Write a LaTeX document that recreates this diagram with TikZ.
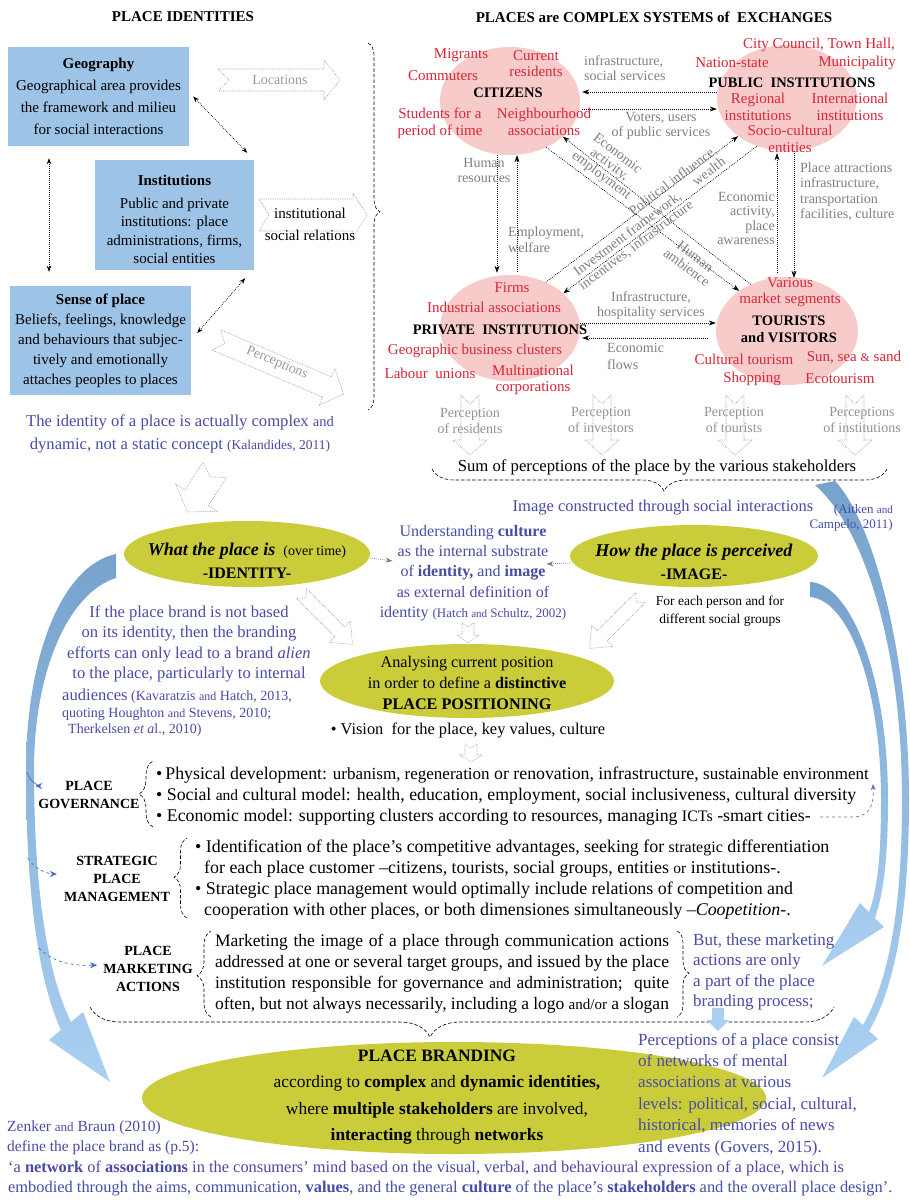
\documentclass[tikz,border=0pt]{standalone}
\usepackage{fontspec}
\setmainfont{Liberation Serif}
\usetikzlibrary{shapes.geometric,decorations.pathreplacing,arrows.meta}

\definecolor{boxblue}{RGB}{157,195,230}
\definecolor{pinkfill}{RGB}{248,203,203}
\definecolor{redlab}{RGB}{215,38,56}
\definecolor{graylab}{RGB}{128,128,128}
\definecolor{olivefill}{RGB}{203,204,58}
\definecolor{bluetxt}{RGB}{72,76,166}
\definecolor{steel}{RGB}{118,162,204}
\definecolor{pale}{RGB}{170,208,242}
\definecolor{arrblue}{RGB}{68,110,192}

\newcommand\fs[2]{\fontsize{#1}{#2}\selectfont}
% notched hollow dotted arrow: x, y, angle, length, half shaft, half head, head length, notch
\newcommand\hollowarr[8]{%
  \draw[hollowline, shift={(#1,#2)}, rotate=#3]
    (-#4/2,-#5) -- (#4/2-#7,-#5) -- (#4/2-#7,-#6) -- (#4/2,0)
    -- (#4/2-#7,#6) -- (#4/2-#7,#5) -- (-#4/2,#5) -- (-#4/2+#8,0) -- cycle;}

\begin{document}
\begin{tikzpicture}[x=1pt, y=-1pt,
    idbox/.style={fill=boxblue, align=center, inner sep=0pt},
    stake/.style={ellipse, fill=pinkfill, inner sep=0pt},
    ovalbox/.style={ellipse, fill=olivefill, inner sep=0pt},
    redtxt/.style={text=redlab, align=center, inner sep=0pt, font=\fs{15}{16.5}},
    graytxt/.style={text=graylab, inner sep=0pt, font=\fs{14}{15.5}},
    headtxt/.style={inner sep=0pt, font=\bfseries\fs{14.5}{17}, align=center},
    bluetext/.style={text=bluetxt, inner sep=0pt},
    dotarr/.style={line width=0.7pt, dash pattern=on 0.8pt off 1.2pt, {Stealth[length=6pt,width=4.5pt]}-{Stealth[length=6pt,width=4.5pt]}},
    flow/.style={line width=0.7pt, dash pattern=on 0.8pt off 1.2pt, -{Stealth[length=7pt,width=5pt]}},
    hollowline/.style={draw=gray!75, line width=0.6pt, dash pattern=on 0.8pt off 1pt},
    dashbrace/.style={decorate, line width=0.6pt, dash pattern=on 3.5pt off 2pt},
  ]
\fill[white] (0,0) rectangle (910,1200);
\useasboundingbox (0,0) rectangle (910,1200);

% titles
\node[headtxt, font=\bfseries\fs{15}{17}] (ttlid) at (183,17) {PLACE IDENTITIES};
\node[headtxt, font=\bfseries\fs{15}{17}] (ttlsys) at (654,17) {PLACES are COMPLEX SYSTEMS of\ \ EXCHANGES};

% identity boxes
\node[idbox, minimum width=181, minimum height=99, font=\fs{15}{22}] (geo) at (98.5,96.5)
  {\textbf{Geography}\\Geographical area provides\\the framework and milieu\\for social interactions};
\node[idbox, minimum width=159, minimum height=110] (inst) at (174.5,215) {};
\node[align=center, inner sep=0pt, font=\fs{15}{18.5}] (insttxt) at (174.5,219.5)
  {\textbf{Institutions}\\[4pt]Public and private\\institutions: place\\administrations, firms,\\social entities};
\node[idbox, minimum width=181, minimum height=109, font=\fs{15}{20}] (sense) at (100.5,340.5)
  {\textbf{Sense of place}\\Beliefs, feelings, knowledge\\and behaviours that subjec-\\tively and emotionally\\attaches peoples to places};

\draw[dotarr] ([xshift=4pt]geo.east) -- ([xshift=-7pt,yshift=7pt]inst.north east);
\draw[dotarr] ([xshift=-49.5pt,yshift=-12pt]geo.south) -- ([xshift=-51.5pt,yshift=14pt]sense.north);
\draw[dotarr] ([xshift=6pt,yshift=7.5pt]sense.east) -- ([xshift=-9pt,yshift=-8pt]inst.south east);

\hollowarr{279}{80}{0}{122}{11}{20}{16}{11}
\node[graytxt, text=gray!80] (loc) at (280,80) {Locations};
\hollowarr{313}{215}{0}{108}{16}{22}{14}{10}
\node[align=center, inner sep=0pt, font=\fs{15}{22}] (instrel) at (310,224) {institutional\\social relations};
\hollowarr{280}{367}{-23}{138}{11}{20}{18}{9}
\node[graytxt, text=gray!80, rotate=-23] (perc) at (277,363) {Perceptions};

\draw[dashbrace, decoration={brace, amplitude=12pt, aspect=0.46}] (368,43) -- (368,410);

\node[bluetext, align=center, font=\fs{16.6}{23}] (idnote) at (180,434)
  {The identity of a place is actually complex {\fs{14.5}{23}and}\\dynamic, not a static concept {\fs{13.5}{23}(Kalandides, 2011)}};

% big blue arrows
\shade[top color=steel, bottom color=pale]
  (116,554) .. controls (60,566) and (26,660) .. (26,770)
  .. controls (26,900) and (40,985) .. (61,1030)
  -- (49,1040) -- (110,1082) -- (83,1012) -- (71,1022)
  .. controls (50,980) and (34,900) .. (34,770)
  .. controls (34,668) and (70,592) .. (116,578) -- cycle;
\shade[top color=steel, bottom color=pale]
  (815,485) -- (835,481) .. controls (872,520) and (909,650) .. (909,800)
  .. controls (909,920) and (893,990) .. (869,1031) -- (878,1039) -- (822,1078)
  -- (854,1017) -- (863,1025) .. controls (886,985) and (902,920) .. (902,800)
  .. controls (902,650) and (866,530) .. (815,485) -- cycle;
\shade[top color=steel, bottom color=pale]
  (810,582) .. controls (852,584) and (888,680) .. (888,800)
  .. controls (888,860) and (883,895) .. (875,918) -- (884,927) -- (822,966)
  -- (860,903) -- (869,912) .. controls (877,890) and (881,860) .. (881,800)
  .. controls (881,690) and (850,600) .. (810,597) -- cycle;

% stakeholders
\node[stake, minimum width=140, minimum height=108] (cit) at (510,101) {};
\node[stake, minimum width=140, minimum height=106] (pub) at (787,98) {};
\node[stake, minimum width=140, minimum height=106] (priv) at (510,328) {};
\node[stake, minimum width=142, minimum height=108] (tour) at (787,331) {};

\draw[flow] ([yshift=6pt]pub.west) -- ([xshift=2pt,yshift=9pt]cit.east);
\draw[flow] ([xshift=2pt,yshift=-8pt]cit.east) -- ([yshift=-11pt]pub.west);
\draw[flow] ([xshift=-13pt]cit.south) -- ([xshift=-13pt,yshift=2pt]priv.north);
\draw[flow] ([xshift=7pt,yshift=3pt]priv.north) -- ([xshift=7pt]cit.south);
\draw[flow] ([xshift=-10pt,yshift=4pt]tour.north) -- ([xshift=-10pt,yshift=-2pt]pub.south);
\draw[flow] ([xshift=7pt]pub.south) -- ([xshift=7pt,yshift=-1pt]tour.north);
\draw[flow] ([yshift=5pt]priv.east) -- ([yshift=8pt]tour.west);
\draw[flow] ([xshift=-8pt,yshift=-7pt]tour.west) -- ([xshift=2pt,yshift=-10pt]priv.east);
\draw[flow] (tour.128) -- (cit.-34);
\draw[flow] (cit.-52) -- (tour.140);
\draw[flow] (priv.52) -- (pub.218);
\draw[flow] (pub.238) -- (priv.33);

\node[headtxt] (citname) at (508,93) {CITIZENS};
\node[redtxt] (migr) at (461,55) {Migrants};
\node[redtxt] (curres) at (536,63.5) {Current\\residents};
\node[redtxt] (commu) at (443,76) {Commuters};
\node[redtxt] (stud) at (440,123.5) {Students for a\\period of time};
\node[redtxt] (neigh) at (544,122) {Neighbourhood\\associations};

\node[headtxt] (pubname) at (792,83) {PUBLIC\ \ INSTITUTIONS};
\node[redtxt] (council) at (819,45) {City Council,\ Town Hall,};
\node[redtxt] (nation) at (732,63) {Nation-state};
\node[redtxt] (munic) at (857,63) {Municipality};
\node[redtxt] (region) at (758,107) {Regional\\institutions};
\node[redtxt] (intl) at (850,107) {International\\institutions};
\node[redtxt] (socio) at (790,139) {Socio-cultural\\entities};

\node[headtxt] (privname) at (500,330) {PRIVATE\ \ INSTITUTIONS};
\node[redtxt] (firms) at (512,288) {Firms};
\node[redtxt] (indass) at (494,307) {Industrial associations};
\node[redtxt] (geoclus) at (475,351) {Geographic business clusters};
\node[redtxt] (labour) at (430,373) {Labour\ \ unions};
\node[redtxt] (multi) at (533,380) {Multinational\\corporations};

\node[headtxt] (tourname) at (789,329) {TOURISTS\\and VISITORS};
\node[redtxt] (various) at (790,292) {Various\\market segments};
\node[redtxt] (cultour) at (744,359) {Cultural tourism};
\node[redtxt] (sunsea) at (854,357) {Sun, sea {\fs{12}{16}\&} sand};
\node[redtxt] (shop) at (752,379) {Shopping};
\node[redtxt] (ecotour) at (840,379) {Ecotourism};

\node[graytxt, anchor=west, align=left] (infra) at (584,68) {infrastructure,\\social services};
\node[graytxt, align=center] (voters) at (661,126) {Voters, users\\of public services};
\node[graytxt, align=center] (humres) at (484,170.5) {Human\\resources};
\node[graytxt, anchor=west, align=left] (employ) at (508,239.5) {Employment,\\welfare};
\node[graytxt, anchor=east, align=right, font=\fs{14}{14.5}] (ecoplace) at (775,218.5) {Economic\\activity,\\place\\awareness};
\node[graytxt, anchor=west, align=left] (attract) at (800,191.5) {Place attractions\\infrastructure,\\transportation\\facilities,\ culture};
\node[graytxt, align=center] (hosp) at (651,305.5) {Infrastructure,\\hospitality\ services};
\node[graytxt, anchor=west, align=left, font=\fs{14}{17}] (ecoflow) at (607,356) {Economic\\flows};
\node[graytxt, rotate=-37, align=center, font=\fs{14}{13.5}] (ecoemp) at (609,165) {Economic\\activity,\\employment};
\node[graytxt, rotate=37, align=right, font=\fs{14}{14}] (polinf) at (677,186) {Political influence,\\wealth};
\node[graytxt, rotate=37, align=center, font=\fs{14}{14}] (invest) at (632,240) {Investment framework,\\incentives,\ infrastructure};
\node[graytxt, rotate=-37, align=center, font=\fs{14}{14}] (human) at (691,262) {Human\\ambience};

% perceptions of stakeholders
\hollowarr{470}{425}{-90}{60}{9}{17}{15}{9}
\hollowarr{602}{425}{-90}{60}{9}{17}{15}{9}
\hollowarr{735}{425}{-90}{60}{9}{17}{15}{9}
\hollowarr{855}{425}{-90}{60}{9}{17}{15}{9}
\node[graytxt, text=gray!85, align=center, font=\fs{14}{16}] (percres) at (470,421) {Perception\\of residents};
\node[graytxt, text=gray!85, align=center, font=\fs{14}{16}] (percinv) at (601,420) {Perception\\of investors};
\node[graytxt, text=gray!85, align=center, font=\fs{14}{16}] (perctour) at (734,420) {Perception\\of tourists};
\node[graytxt, text=gray!85, align=center, font=\fs{14}{16}] (percinst) at (862,420) {Perceptions\\of institutions};

\node[inner sep=0pt, font=\fs{16.7}{18}] (sumperc) at (657,467) {Sum of perceptions of the place by the various stakeholders};
\draw[dashbrace, decoration={brace, mirror, amplitude=22pt, aspect=0.51}] (432,469) -- (887,469);

\node[bluetext, font=\fs{16.5}{18}] (imgsoc) at (663,508) {Image constructed through social interactions};
\node[bluetext, anchor=east, align=right, font=\fs{13}{15}] (aitken) at (893,518) {(Aitken {\fs{11}{15}and}\\Campelo, 2011)};

% identity / image / positioning
\hollowarr{201}{491}{-123}{50}{14}{25}{17}{8}
\node[ovalbox, minimum width=246, minimum height=66] (ident) at (247,554) {};
\node[inner sep=0pt, align=center, font=\fs{16}{23}] (identtxt) at (247,560.5)
  {{\fs{18}{23}\textbf{\textit{What the place is}}}\ \ {\fs{14}{23}(over time)}\\\textbf{-IDENTITY-}};
\node[ovalbox, minimum width=248, minimum height=62] (imag) at (694,556) {};
\node[inner sep=0pt, align=center, font=\fs{16}{23}] (imagtxt) at (694,561.5)
  {{\fs{18}{23}\textbf{\textit{How the place is perceived}}}\\\textbf{-IMAGE-}};

\node[bluetext, align=center, font=\fs{16}{20.3}] (underst) at (473,573)
  {Understanding \textbf{culture}\\as the internal substrate\\of \textbf{identity,} and \textbf{image}\\as external definition of\\identity {\fs{13}{20.3}(Hatch {\fs{11}{20}and} Schultz, 2002)}};
\draw[flow, draw=gray, line width=0.6pt] ([yshift=-4pt]ident.east) -- ([xshift=13pt,yshift=12pt]underst.west);
\draw[flow, draw=gray, line width=0.6pt] ([yshift=-7pt]imag.west) -- ([xshift=-20pt,yshift=9pt]underst.east);

\node[inner sep=0pt, align=center, font=\fs{13.5}{18}] (eachpers) at (720,611) {For each person and for\\different social groups};

\node[bluetext, align=center, font=\fs{16.6}{20.5}] (alien) at (189,644)
  {If the place brand is not based\\on its identity, then the branding\\efforts can only lead to a brand \textit{alien}\\to the place, particularly to internal};
\node[bluetext, anchor=west, align=left, font=\fs{14}{16.5}] (kavar) at (62,713)
  {{\fs{16.6}{16.5}audiences} (Kavaratzis {\fs{12}{16}and} Hatch, 2013,\\quoting Houghton {\fs{12}{16}and} Stevens, 2010;\\\hspace*{6pt}Therkelsen \textit{et a}l., 2010)};

\hollowarr{327}{619}{-45}{72}{7}{15}{18}{6}
\hollowarr{615}{623}{-135}{72}{7}{15}{18}{6}
\hollowarr{468}{633}{-90}{20}{6}{11}{8}{4}

\node[ovalbox, minimum width=294, minimum height=74] (posit) at (467,681) {};
\node[inner sep=0pt, align=center, font=\fs{16.2}{21}] (posittxt) at (467,683)
  {Analysing current position\\in order to define a \textbf{distinctive}\\\textbf{PLACE POSITIONING}};
\node[inner sep=0pt, font=\fs{16.4}{18}] (vision) at (468,730) {\textbullet\ Vision\ \ for the place, key values, culture};
\hollowarr{471}{753}{-90}{18}{6}{11}{7}{4}

% management levels
\node[headtxt, font=\bfseries\fs{14}{17.5}] (gov) at (89,795) {PLACE\\GOVERNANCE};
\node[headtxt, font=\bfseries\fs{14}{18}] (strat) at (117,879) {STRATEGIC\\PLACE\\MANAGEMENT};
\node[headtxt, font=\bfseries\fs{14}{18}] (mkt) at (148,969) {PLACE\\MARKETING\\ACTIONS};

\coordinate (govfrom) at (27,772);
\coordinate (stratfrom) at (28,858);
\coordinate (mktfrom) at (39,948);
\draw[arrblue, line width=0.7pt, -{Stealth[length=7pt,width=6pt]}] (govfrom) .. controls (30,783) and (40,786) .. ([xshift=-3pt,yshift=9pt]gov.west);
\draw[arrblue, line width=0.7pt, dashed, -{Stealth[length=7pt,width=6pt]}] (stratfrom) .. controls (36,872) and (52,874) .. ([xshift=-7pt,yshift=5pt]strat.west);
\draw[arrblue, line width=0.7pt, dashed, -{Stealth[length=7pt,width=6pt]}] (mktfrom) .. controls (52,962) and (72,966) .. ([xshift=-6pt,yshift=4pt]mkt.west);

\draw[dashbrace, decoration={brace, amplitude=14pt, aspect=0.5}] (153,827) -- (153,761);
\node[inner sep=0pt, anchor=west, align=left, font=\fs{17.8}{21}] (govtxt) at (156,796)
  {\textbullet\,Physical development: {\fs{17}{21}urbanism, regeneration} or renovation, infrastructure, {\fs{17}{21}sustainable environment}\\
   \textbullet\ Social {\fs{15.5}{21}and} cultural model: health, education, employment, social inclusiveness,\ cultural diversity\\
   \textbullet\ Economic model: supporting clusters according to resources, managing {\fs{16}{21}ICTs} -smart cities-};
\coordinate (citiesend) at (820,817);
\draw[draw=bluetxt!80, line width=0.7pt, dashed, -{Stealth[length=6pt,width=5pt]}] (citiesend) -- (855,817) .. controls (870,815) and (874,805) .. (873,784);

\draw[dashbrace, decoration={brace, amplitude=13pt, aspect=0.51}] (187,918) -- (187,838);
\node[inner sep=0pt, anchor=west, align=left, font=\fs{17.9}{21}] (strattxt) at (195,880)
  {\textbullet\ Identification of the place’s competitive advantages, seeking for {\fs{16}{21}strategic} differentiation\\
   \hspace*{9pt}for each place customer –citizens, tourists, social groups, entities {\fs{15.5}{21}or} institutions-.\\
   \textbullet\ Strategic place management would optimally include relations of competition and\\
   \hspace*{9pt}cooperation with other places, or both dimensiones simultaneously –\textit{Coopetition}-.};

\draw[dashbrace, decoration={brace, amplitude=14pt, aspect=0.48}] (211,1017) -- (211,931);
\draw[dashbrace, decoration={brace, amplitude=12pt, aspect=0.49}] (677,931) -- (677,1017);
\node[inner sep=0pt, align=left, font=\fs{17.5}{21}] (mkttxt) at (442,974)
  {\makebox[454pt][s]{Marketing the image of a place through communication actions}\\
   \makebox[454pt][s]{addressed at one or several target groups, and issued by the place}\\
   \makebox[454pt][s]{institution responsible for governance {\fs{15}{21}and} administration;\ \ quite}\\
   \makebox[454pt][s]{often, but not always necessarily, including a logo {\fs{15}{21}and/or} a slogan}};
\node[bluetext, anchor=west, align=left, font=\fs{17}{20.5}] (butnote) at (693,972)
  {But, these marketing\\actions are only\\a part of the place\\branding process;};

\draw[dashbrace, decoration={brace, mirror, amplitude=30pt, aspect=0.457}] (90,1007) -- (834,1007);
\fill[pale] (712,1008) -- (724,1008) -- (724,1020) -- (729,1020) -- (718,1031) -- (707,1020) -- (712,1020) -- cycle;

% place branding
\node[ovalbox, minimum width=624, minimum height=112] (brand) at (454,1098) {};
\node[inner sep=0pt, align=center, font=\fs{17.4}{26.3}] (brandtxt) at (437,1097)
  {\textbf{PLACE BRANDING}\\according to \textbf{complex} and \textbf{dynamic identities,}\\where \textbf{multiple stakeholders} are involved,\\\textbf{interacting} through \textbf{networks}};

\node[bluetext, anchor=west, align=left, font=\fs{17}{21.4}] (govers) at (638,1094.5)
  {Perceptions of a place consist\\of networks of mental\\associations at various\\levels: political, social, cultural,\\historical, memories of news\\and events (Govers, 2015).};
\node[bluetext, anchor=west, align=left, font=\fs{15.5}{20}] (zenker) at (7,1138)
  {Zenker {\fs{13}{20}and} Braun (2010)\\define the place brand as (p.5):};
\node[bluetext, anchor=west, align=left, font=\fs{16.4}{20}] (quote) at (8,1178)
  {‘a \textbf{network} of \textbf{associations} in the consumers’ mind based on the visual, verbal, and behavioural expression of a place, which is\\
   embodied through the aims, communication, \textbf{values}, and the general \textbf{culture} of the place’s \textbf{stakeholders} and the overall place design’.};
\end{tikzpicture}
\end{document}
